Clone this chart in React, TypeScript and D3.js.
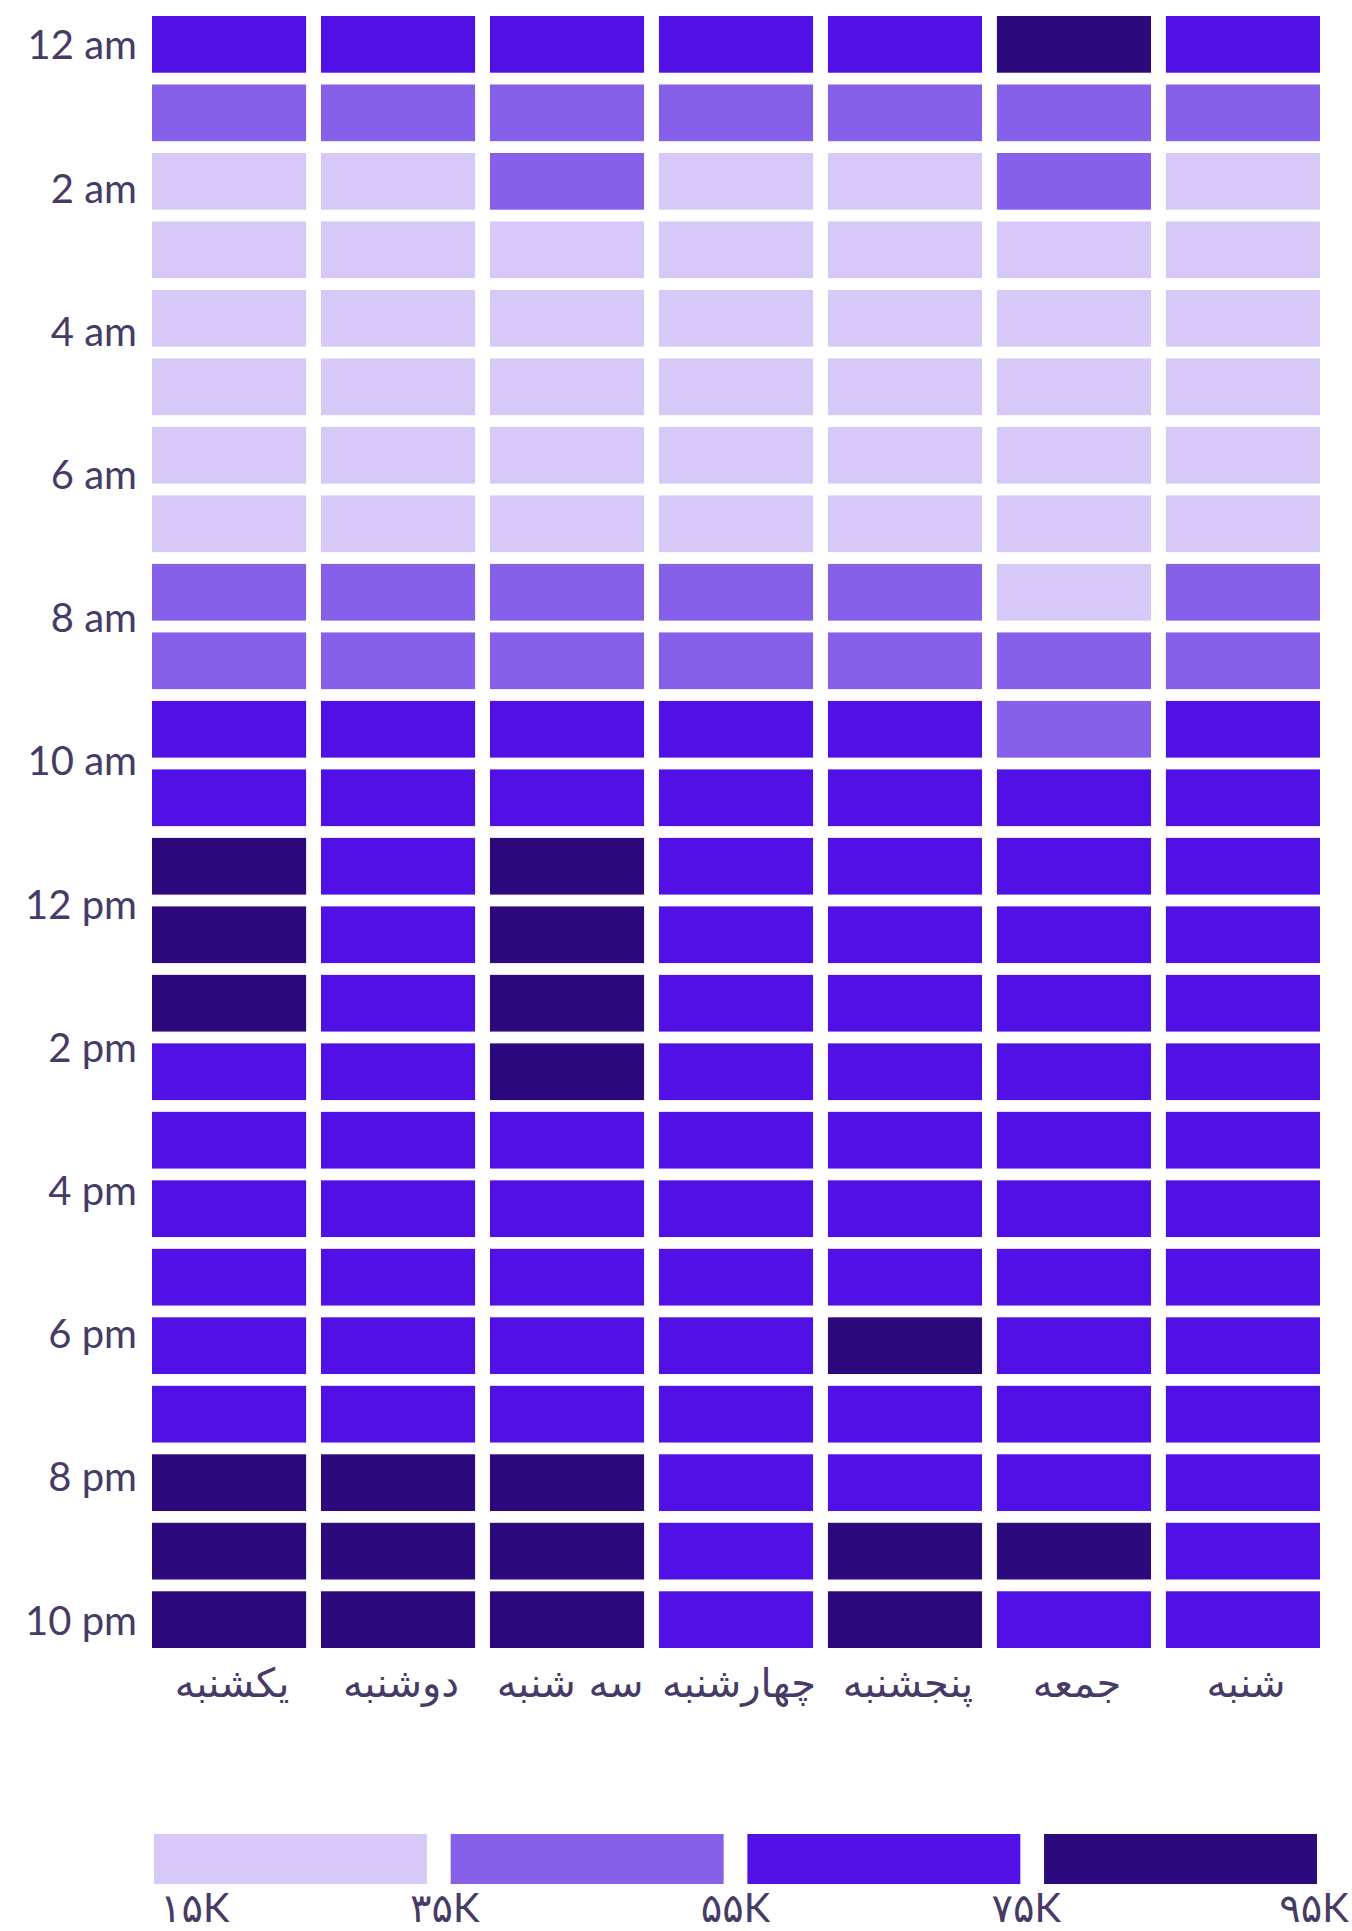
import React from "react";
import * as d3 from "d3";

const days = ["یکشنبه", "دوشنبه", "سه شنبه", "چهارشنبه", "پنجشنبه", "جمعه", "شنبه"];
const hourTickLabels = ["12 am", "2 am", "4 am", "6 am", "8 am", "10 am", "12 pm", "2 pm", "4 pm", "6 pm", "8 pm", "10 pm"];
const hours = d3.range(24);

// values in K, per day, hour 0..23
const sunday = [62, 41, 22, 19, 18, 17, 19, 24, 44, 48, 63, 70, 81, 84, 79, 72, 66, 64, 68, 70, 67, 83, 88, 86];
const monday = [58, 39, 21, 18, 17, 16, 18, 23, 43, 47, 61, 68, 73, 72, 70, 67, 65, 63, 66, 69, 66, 80, 85, 82];
const tuesday = [60, 42, 36, 20, 18, 17, 19, 25, 45, 50, 65, 72, 82, 86, 84, 77, 71, 67, 69, 72, 68, 84, 90, 87];
const wednesday = [57, 38, 23, 19, 17, 16, 18, 24, 42, 46, 60, 66, 70, 71, 69, 66, 64, 62, 65, 68, 64, 70, 73, 71];
const thursday = [59, 40, 22, 18, 16, 16, 17, 22, 41, 46, 62, 67, 72, 73, 70, 68, 65, 63, 67, 76, 69, 74, 81, 79];
const friday = [78, 49, 41, 28, 21, 18, 17, 19, 33, 39, 52, 58, 64, 67, 68, 66, 63, 61, 64, 67, 70, 73, 77, 72];
const saturday = [61, 43, 24, 20, 18, 17, 18, 23, 43, 47, 62, 67, 69, 70, 68, 66, 64, 62, 65, 67, 66, 69, 72, 70];
const series = [sunday, monday, tuesday, wednesday, thursday, friday, saturday];

const legendStops = [15, 35, 55, 75, 95];
const legendLabels = ["۱۵K", "۳۵K", "۵۵K", "۷۵K", "۹۵K"];
const palette = ["#d6c9f8", "#8760ea", "#5010e6", "#2c0a7e"];

const textColor = "#463a66";
const latinFont = "Lato, 'DejaVu Sans', sans-serif";

export default function App() {
  const W = 1352;
  const H = 1931;

  const x = d3.scaleBand<string>().domain(days).range([152, 1320]).paddingInner(0.088).paddingOuter(0);
  const y = d3.scaleBand<number>().domain(hours).range([16, 1648]).paddingInner(0.172).paddingOuter(0);
  const color = d3.scaleThreshold<number, string>().domain([35, 55, 75]).range(palette);

  const firstCenter = (y(0) as number) + y.bandwidth() / 2;
  const lastCenter = (y(23) as number) + y.bandwidth() / 2;
  const yLabel = d3.scalePoint<string>().domain(hourTickLabels).range([firstCenter, lastCenter]);

  const lx = d3.scaleLinear().domain([15, 95]).range([154, 1317]);
  const legendBand = d3.scaleBand<number>().domain(d3.range(palette.length)).range([154, 1317]).paddingInner(0.08).paddingOuter(0);

  const cells: { d: string; h: number; v: number }[] = [];
  days.forEach((d, i) => hours.forEach((h) => cells.push({ d, h, v: series[i][h] })));

  return (
    <svg width={W} height={H} style={{ position: "absolute", left: 0, top: 0, background: "#fff" }}>
      <g>
        {cells.map((c, i) => (
          <rect
            key={i}
            x={x(c.d)}
            y={y(c.h)}
            width={x.bandwidth()}
            height={y.bandwidth()}
            fill={color(c.v)}
          />
        ))}
      </g>
      <g fontFamily={latinFont} fontSize={40} fill={textColor}>
        {hourTickLabels.map((t) => (
          <text key={t} x={137} y={yLabel(t)} textAnchor="end" dominantBaseline="central">
            {t}
          </text>
        ))}
      </g>
      <g fontFamily="'DejaVu Sans', sans-serif" fontSize={40} fill={textColor}>
        {days.map((d) => (
          <text key={d} x={(x(d) as number) + x.bandwidth() / 2 + 3} y={1697} textAnchor="middle">
            {d}
          </text>
        ))}
      </g>
      <g>
        {palette.map((c, i) => (
          <rect key={c} x={legendBand(i)} y={1834} width={legendBand.bandwidth()} height={50} fill={c} />
        ))}
      </g>
      <g fontFamily={latinFont} fontSize={40} fill={textColor}>
        {legendLabels.map((t, i) => {
          const first = i === 0;
          const last = i === legendLabels.length - 1;
          return (
            <text
              key={t}
              x={first ? lx(legendStops[i]) + 6 : last ? lx(legendStops[i]) - 3 : lx(legendStops[i])}
              y={1922}
              textAnchor={first ? "start" : "middle"}
            >
              {t}
            </text>
          );
        })}
      </g>
    </svg>
  );
}
